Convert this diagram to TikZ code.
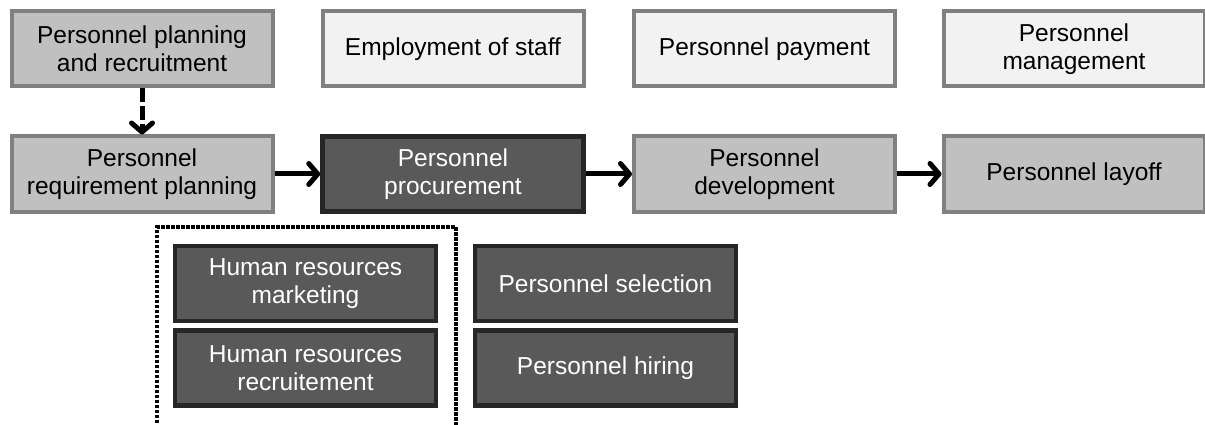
\documentclass[tikz,border=0pt]{standalone}
\usepackage{fontspec}
\setmainfont{Liberation Sans}
\usetikzlibrary{arrows.meta}

\definecolor{boxlight}{HTML}{F2F2F2}
\definecolor{boxmid}{HTML}{C0C0C0}
\definecolor{boxdark}{HTML}{595959}
\definecolor{edgemid}{HTML}{808080}
\definecolor{edgedark}{HTML}{262626}

\tikzset{
  box/.style={rectangle, line width=4pt, minimum width=261pt, minimum height=75pt,
    inner sep=0pt, align=center, font=\fontsize{24.5}{28}\selectfont},
  lightbox/.style={box, fill=boxlight, draw=edgemid, text=black},
  midbox/.style={box, fill=boxmid, draw=edgemid, text=black},
  darkbox/.style={box, fill=boxdark, draw=edgedark, line width=4.5pt, text=white},
  flow/.style={line width=5pt, -{Straight Barb[length=9pt,width=21pt,round]}},
  flowdashed/.style={flow, dash pattern=on 14pt off 4pt},
  groupframe/.style={line width=3.5pt, dash pattern=on 3.5pt off 1.5pt}
}

\begin{document}
\begin{tikzpicture}[x=1pt,y=-1pt]
  \useasboundingbox (0,0) rectangle (1205,425);

  % top row: personnel management areas
  \node[midbox]   (plan)  at (142,49)    {Personnel planning\\and recruitment};
  \node[lightbox] (empl)  at (453,49)    {Employment of staff};
  \node[lightbox] (pay)   at (764.5,49)  {Personnel payment};
  \node[lightbox] (mgmt)  at (1074,49)   {Personnel\\management};

  % second row: personnel process chain
  \node[midbox]   (req)   at (142,174)   {Personnel\\requirement planning};
  \node[darkbox]  (proc)  at (453,174)   {Personnel\\procurement};
  \node[midbox]   (dev)   at (764.5,174) {Personnel\\development};
  \node[midbox]   (lay)   at (1074,174)  {Personnel layoff};

  % procurement sub-activities
  \node[darkbox]  (hrm)   at (305.5,283.5) {Human resources\\marketing};
  \node[darkbox]  (hrr)   at (305.5,368)   {Human resources\\recruitement};
  \node[darkbox]  (sel)   at (605.5,283.5) {Personnel selection};
  \node[darkbox]  (hire)  at (605.5,368)   {Personnel hiring};

  % connectors
  \draw[flowdashed] (plan.south) -- (req.north);
  \draw[flow] (req.east) -- (proc.west);
  \draw[flow] (proc.east) -- (dev.west);
  \draw[flow] (dev.east) -- (lay.west);

  % dotted frame around the marketing/recruitment group, open at the bottom
  \coordinate (frameBL) at (157,428);
  \coordinate (frameTL) at (157,227);
  \coordinate (frameTR) at (456,227);
  \coordinate (frameBR) at (456,428);
  \draw[groupframe] (frameBL) -- (frameTL) -- (frameTR) -- (frameBR);
\end{tikzpicture}
\end{document}
